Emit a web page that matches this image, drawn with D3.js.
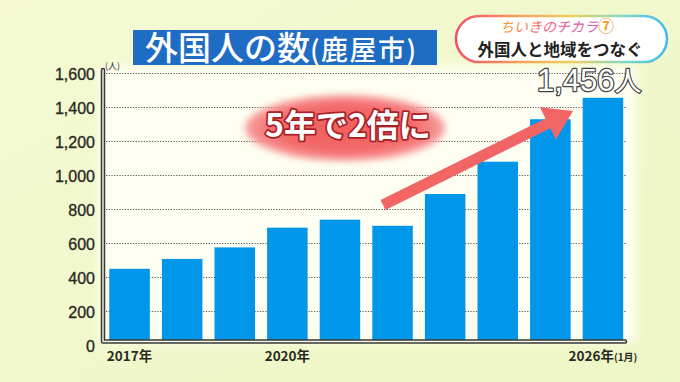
<!DOCTYPE html>
<html><head><meta charset="utf-8">
<script src="https://cdn.jsdelivr.net/npm/d3@7"></script>
<style>html,body{margin:0;padding:0;overflow:hidden;background:#f1f8cd}</style>
</head><body>
<script>
const categories = ["2017","2018","2019","2020","2021","2022","2023","2024","2025","2026"];
const values = [450, 508, 576, 692, 739, 703, 890, 1080, 1330, 1456];
const xTickLabels = {"2017":"2017年","2020":"2020年","2026":"2026年"};
const yTicks = [0,200,400,600,800,1000,1200,1400,1600];
const title = "外国人の数";
const titleSub = "(鹿屋市)";
const badge1 = "ちいきのチカラ";
const badgeNum = "⑦";
const badge2 = "外国人と地域をつなぐ";
const lastLabel = "1,456";
const callout = "5年で2倍に";

const W=680,H=382;
const svg=d3.select("body").append("svg").attr("width",W).attr("height",H);
const defs=svg.append("defs");

// background
const bg=defs.append("linearGradient").attr("id","bg").attr("x1","0").attr("y1","0").attr("x2","1").attr("y2","1");
bg.append("stop").attr("offset","0").attr("stop-color","#f4f9d2");
bg.append("stop").attr("offset","1").attr("stop-color","#eef7c6");
svg.append("rect").attr("width",W).attr("height",H).attr("fill","url(#bg)");
defs.append("filter").attr("id","soft").attr("x","-10%").attr("y","-10%").attr("width","120%").attr("height","120%")
  .append("feGaussianBlur").attr("stdDeviation",5);
svg.append("rect").attr("x",100).attr("y",66).attr("width",536).attr("height",276)
  .attr("fill","#fefff2").attr("filter","url(#soft)");

const x=d3.scaleBand().domain(categories).range([109.3,623.2]).paddingInner(0.23).paddingOuter(0);
const y=d3.scaleLinear().domain([0,1600]).range([345.3,73.3]);
const axisY=341.5, axisX=103;

// gridlines
svg.append("g").selectAll("line").data(yTicks.filter(d=>d>0)).join("line")
  .attr("x1",axisX+3).attr("x2",626).attr("y1",d=>Math.round(y(d))+0.5).attr("y2",d=>Math.round(y(d))+0.5)
  .attr("stroke","#555").attr("stroke-width",1).attr("stroke-dasharray","1.2,1.5");

// bars
svg.append("g").selectAll("rect").data(values).join("rect")
  .attr("x",(d,i)=>x(categories[i])).attr("width",x.bandwidth())
  .attr("y",d=>y(d)).attr("height",d=>axisY-y(d))
  .attr("fill","#0096ea");

// axes (double line)
const axPath=`M${axisX},70 L${axisX},${axisY} L625,${axisY}`;
svg.append("path").attr("d",axPath).attr("fill","none").attr("stroke","#3a3a35").attr("stroke-width",4.5).attr("stroke-linecap","round").attr("stroke-linejoin","round");
svg.append("path").attr("d",axPath).attr("fill","none").attr("stroke","#f4f4ec").attr("stroke-width",1.4).attr("stroke-linecap","round");

// y tick labels
const ya=d3.axisLeft(y).tickValues(yTicks).tickSize(0).tickPadding(0).tickFormat(d3.format(","));
const yg=svg.append("g").attr("transform","translate(95,0)").call(ya);
yg.select(".domain").remove();
yg.selectAll("text").attr("font-family","Liberation Sans, Arial, sans-serif").attr("font-size",16)
  .attr("fill","#2a2a25").attr("stroke","#2a2a25").attr("stroke-width",0.35).attr("dy","0.36em");
svg.append("text").attr("x",105).attr("y",69).text("(人)").attr("font-family","Noto Sans CJK JP").attr("font-size",9).attr("fill","#333");

// x tick labels
const xa=d3.axisBottom(x).tickSize(0).tickPadding(0).tickFormat(d=>xTickLabels[d]||"");
const xg=svg.append("g").attr("transform","translate(0,350)").call(xa);
xg.select(".domain").remove();
xg.selectAll("text").attr("font-family","Liberation Sans Narrow, Noto Sans CJK JP, sans-serif").attr("font-weight","bold")
  .attr("font-size",13.5).attr("fill","#2a2a25").attr("dy","0.8em");
xg.selectAll(".tick").filter(d=>d==="2026").select("text")
  .append("tspan").attr("font-size",10).text("(1月)");

// arrow
const arrowCol="#f26565";
const ax0=383, ay0=205, ax1=573, ay1=111;
const ang=Math.atan2(ay1-ay0, ax1-ax0);
const hl=28, hw=18, sw=5.5;
const bx=ax1-hl*Math.cos(ang), by=ay1-hl*Math.sin(ang);
const px=-Math.sin(ang), py=Math.cos(ang);
const arrowPts=[
 [ax0+px*sw, ay0+py*sw],[bx+px*sw, by+py*sw],[bx+px*hw, by+py*hw],[ax1,ay1],
 [bx-px*hw, by-py*hw],[bx-px*sw, by-py*sw],[ax0-px*sw, ay0-py*sw]];
svg.append("path").attr("d",d3.line()(arrowPts)+"Z").attr("fill",arrowCol);

// callout ellipse
const rg=defs.append("radialGradient").attr("id","ell");
rg.append("stop").attr("offset","0").attr("stop-color","#f25e5e");
rg.append("stop").attr("offset","0.7").attr("stop-color","#f36a6a");
rg.append("stop").attr("offset","1").attr("stop-color","#f8a0a0");
defs.append("filter").attr("id","blur2").attr("x","-20%").attr("y","-30%").attr("width","140%").attr("height","160%")
  .append("feGaussianBlur").attr("stdDeviation",3.5);
svg.append("ellipse").attr("cx",345).attr("cy",128).attr("rx",100).attr("ry",33)
  .attr("fill","url(#ell)").attr("filter","url(#blur2)");
svg.append("text").attr("x",348).attr("y",137).attr("text-anchor","middle").text(callout)
  .attr("font-family","Noto Sans CJK JP").attr("font-weight","bold").attr("font-size",32)
  .attr("fill","#fff").attr("stroke","#a82025").attr("stroke-width",3.5).attr("paint-order","stroke").attr("stroke-linejoin","round");

// title box
svg.append("rect").attr("x",133).attr("y",30).attr("width",304).attr("height",35).attr("fill","#1f6cc4");
const tt=svg.append("text").attr("x",145).attr("y",60).attr("fill","#fff").attr("font-family","Noto Sans CJK JP");
tt.append("tspan").attr("font-size",33).attr("font-weight","500").text(title);
tt.append("tspan").attr("font-size",27).attr("font-weight","500").attr("letter-spacing",1.5).text(titleSub);

// badge
const bgd=defs.append("linearGradient").attr("id","bord").attr("x1","0").attr("y1","0").attr("x2","1").attr("y2","0");
[["0","#f0506a"],["0.3","#f5a05a"],["0.55","#f0d060"],["0.8","#7fd8c8"],["1","#40b8f0"]].forEach(s=>bgd.append("stop").attr("offset",s[0]).attr("stop-color",s[1]));
svg.append("rect").attr("x",456).attr("y",16).attr("width",211).attr("height",46).attr("rx",23)
  .attr("fill","#fff").attr("stroke","url(#bord)").attr("stroke-width",2.5);
const tg=defs.append("linearGradient").attr("id","tg").attr("x1","0").attr("x2","1");
tg.append("stop").attr("offset","0").attr("stop-color","#f39a2c");
tg.append("stop").attr("offset","0.5").attr("stop-color","#ee5a8a");
tg.append("stop").attr("offset","1").attr("stop-color","#c45ad0");
const b1=svg.append("text").attr("x",557).attr("y",32).attr("text-anchor","middle")
  .attr("font-family","Noto Sans CJK JP").attr("font-size",14);
b1.append("tspan").attr("font-style","italic").attr("fill","url(#tg)").text(badge1);
b1.append("tspan").attr("fill","#f39a2c").attr("font-size",16).attr("font-weight","bold").text(badgeNum);
svg.append("text").attr("x",560).attr("y",56).attr("text-anchor","middle").text(badge2)
  .attr("font-family","Noto Sans CJK JP").attr("font-weight","bold").attr("font-size",16.5).attr("fill","#222");

// last value label
const lv=svg.append("text").attr("x",537).attr("y",91)
  .attr("fill","#fff").attr("stroke","#404040").attr("stroke-width",2.4).attr("paint-order","stroke").attr("stroke-linejoin","round")
  .attr("font-family","Liberation Sans, Arial, sans-serif");
lv.append("tspan").attr("font-size",31).text(lastLabel);
lv.append("tspan").attr("font-size",27).attr("font-family","Noto Sans CJK JP").text("人");
</script>
</body></html>
